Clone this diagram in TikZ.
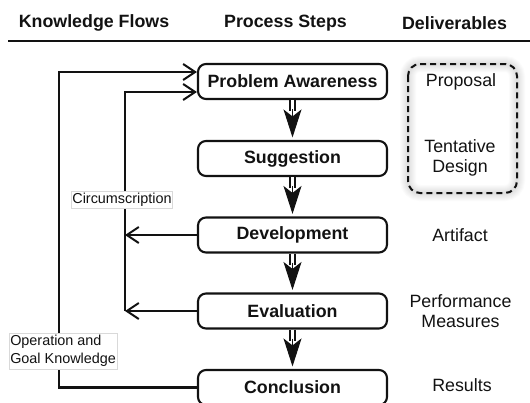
\documentclass[tikz,border=0pt]{standalone}
\usepackage{fontspec}
\setmainfont{Liberation Sans}
\usetikzlibrary{arrows.meta,calc}
\definecolor{ink}{HTML}{121212}
\begin{document}
\begin{tikzpicture}[x=1pt,y=-1pt,
  stepbox/.style={draw=ink, line width=2.1pt, rounded corners=8pt, minimum width=189pt, minimum height=35pt, inner sep=0pt, text=ink, font=\fontsize{17.8}{21}\selectfont\bfseries},
  headtxt/.style={text=ink, font=\fontsize{17.8}{21}\selectfont\bfseries},
  deliv/.style={font=\fontsize{17.8}{20.5}\selectfont, align=center, text=ink, inner sep=0pt},
  lab/.style={font=\fontsize{14.4}{18.3}\selectfont, text=ink, fill=white, draw=gray!30, line width=0.5pt, inner xsep=1pt, inner ysep=2pt, align=left},
  fb/.style={draw=ink, line width=2.1pt},
  fbarrow/.style={fb, -{Straight Barb[length=12pt,width=16pt,line width=2pt]}},
  shaft/.style={draw=ink, line width=1.7pt, double=white, double distance=2.8pt},
  bighead/.style={draw=ink, line width=1pt, -{Stealth[length=28pt,width=18pt,inset=7pt]}, shorten >=2.5pt}
]
\useasboundingbox (0,0) rectangle (530,402);
\clip (0,0) rectangle (530,402);

% header
\node[headtxt] (hk) at (94,23) {Knowledge Flows};
\node[headtxt] (hp) at (285.5,23) {Process Steps};
\node[headtxt] (hd) at (454.5,23) {Deliverables};
\draw[ink, line width=2.8pt] (8,41) -- (530,41);

% process steps
\node[stepbox] (pa) at (292.5,81.5) {Problem Awareness};
\node[stepbox] (sg) at (292.5,158.5) {Suggestion};
\node[stepbox] (dv) at (292.5,235) {Development};
\node[stepbox] (ev) at (292.5,311) {Evaluation};
\node[stepbox] (cc) at (292.5,387.5) {Conclusion};

% double arrows
\foreach \a/\b in {pa/sg, sg/dv, dv/ev, ev/cc}{
  \draw[shaft] (\a.south) -- ($(\a.south)+(0,11)$);
  \draw[bighead] ($(\a.south)+(0,9)$) -- (\b.north);
}

% knowledge flows
\coordinate (o1) at (59,72);
\coordinate (o2) at (59,387.5);
\coordinate (i1) at (125,92);
\coordinate (i2) at (125,311);
\draw[fbarrow] (cc.west) -- (o2) -- (o1) -- (pa.west |- o1);
\draw[fbarrow] (i2) -- (i1) -- (pa.west |- i1);
\draw[fbarrow] (dv.west) -- (dv.west -| i1);
\draw[fbarrow] (ev.west) -- (i2);

\node[lab] (circ) at (122,200) {Circumscription};
\node[lab, anchor=west] (opk) at (9,351) {Operation and\\Goal Knowledge};

% deliverables
\coordinate (d1) at (408,64);
\coordinate (d2) at (517,193);
\foreach \w in {2,4,...,16}{
  \draw[black, opacity=0.015, line width=\w pt, rounded corners=12pt] (d1) rectangle (d2);
}
\draw[ink, line width=2pt, dash pattern=on 6pt off 4pt, rounded corners=12pt] (d1) rectangle (d2);
\node[deliv] (prop) at (461,82) {Proposal};
\node[deliv] (tent) at (460,158) {Tentative\\Design};
\node[deliv] (art) at (460,235) {Artifact};
\node[deliv] (perf) at (460.5,311) {Performance\\Measures};
\node[deliv] (res) at (462,385) {Results};
\end{tikzpicture}
\end{document}
